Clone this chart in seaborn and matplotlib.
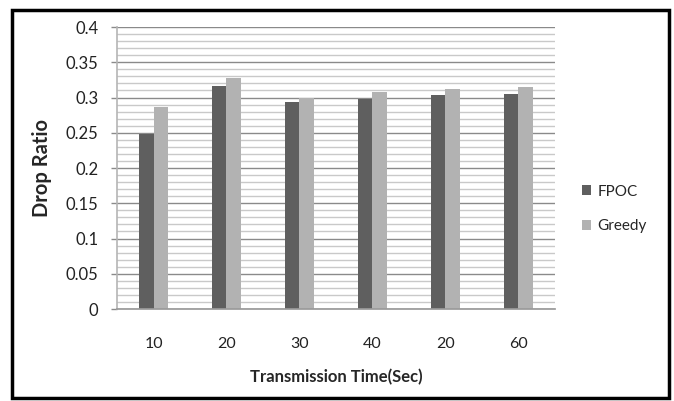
import matplotlib
matplotlib.use("Agg")
import matplotlib.pyplot as plt
from matplotlib.patches import Rectangle
from matplotlib.ticker import MultipleLocator, FuncFormatter
import seaborn as sns
import pandas as pd

# values
time_labels = ["10", "20", "30", "40", "20", "60"]
fpoc = [0.248, 0.316, 0.293, 0.298, 0.303, 0.305]
greedy = [0.286, 0.327, 0.300, 0.308, 0.312, 0.315]
series = ["FPOC", "Greedy"]
colors = ["#5f5f5f", "#b2b2b2"]

slots = list(range(len(time_labels)))
df = pd.DataFrame({
    "slot": slots * 2,
    "method": [series[0]] * len(slots) + [series[1]] * len(slots),
    "ratio": fpoc + greedy,
})

sns.set_theme(style="white")
plt.rcParams["font.family"] = ["Lato", "DejaVu Sans"]

fig = plt.figure(figsize=(6.74, 4.01), dpi=100)
ax = fig.add_axes([0.1736, 0.2294, 0.6498, 0.7032])

sns.barplot(data=df, x="slot", y="ratio", hue="method", hue_order=series,
            palette=colors, width=0.4, gap=0, saturation=1, ax=ax,
            edgecolor="none", linewidth=0)

ax.set_ylim(0, 0.4)
ax.set_xlim(-0.5, len(slots) - 0.5)
ax.yaxis.set_major_locator(MultipleLocator(0.05))
ax.yaxis.set_minor_locator(MultipleLocator(0.01))
ax.yaxis.set_major_formatter(FuncFormatter(lambda v, p: f"{v:g}"))
ax.set_axisbelow(True)
ax.grid(which="minor", axis="y", color="#c9c9c9", linewidth=1.0)
ax.grid(which="major", axis="y", color="#8a8a8a", linewidth=1.0)
ax.grid(axis="x", visible=False)

for side in ["top", "right"]:
    ax.spines[side].set_visible(False)
ax.spines["left"].set_color("#b5b5b5")
ax.spines["bottom"].set_color("#9a9a9a")
ax.spines["left"].set_linewidth(1.2)

ax.set_xticks(slots)
ax.set_xticklabels(time_labels)
ax.tick_params(axis="y", which="major", left=True, length=4.5, width=1,
               color="#8a8a8a", pad=9, labelsize=12, labelcolor="#222222")
ax.tick_params(axis="y", which="minor", left=False)
ax.tick_params(axis="x", bottom=False, pad=14, labelsize=11.5,
               labelcolor="#222222")

ax.set_ylabel("Drop Ratio", fontsize=14.5, fontweight="bold", labelpad=10)
ax.set_xlabel("Transmission Time(Sec)", fontsize=12, fontweight="bold",
              labelpad=13)

ax.legend(loc="center left", bbox_to_anchor=(1.03, 0.355), frameon=False,
          handlelength=0.6, handleheight=0.6, handletextpad=0.4,
          labelspacing=1.35, fontsize=11)

fig.patches.append(Rectangle((0.0178, 0.0075), 0.975, 0.9676,
                             transform=fig.transFigure, fill=False,
                             edgecolor="black", linewidth=2.5))

fig.savefig("out.png", dpi=100)
